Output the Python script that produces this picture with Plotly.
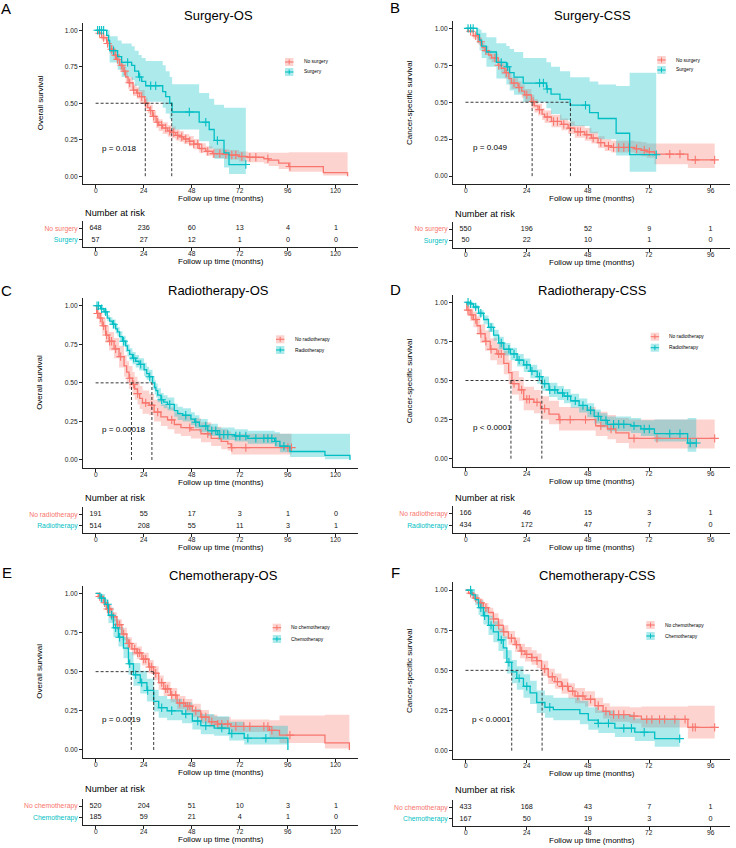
import numpy as np
import plotly.graph_objects as go

RED = "#F8766D"
TEAL = "#00BFC4"
RED_FILL = "rgba(248,118,109,0.32)"
TEAL_FILL = "rgba(0,191,196,0.32)"
FONT = "Liberation Sans, Arial, Helvetica, sans-serif"
W, H = 736, 848

# ======================= DATA =======================
# ---- Panel A: Surgery-OS ----
A_title = "Surgery-OS"
A_ylab = "Overall survival"
A_groups = ["No surgery", "Surgery"]
A_pvalue = "p = 0.018"
A_g1_time = [0, 1.3, 3, 5.5, 7, 9, 10.5, 12, 13.7, 15, 16.2, 18.7, 20.5, 22, 24.5, 26, 27, 28.5, 30.2, 31.5,
             33.5, 36, 38, 40, 42, 44, 46.8, 49, 51.7, 55, 58.3, 64, 66.6, 71.6, 76, 84, 86.4, 91.4, 96.4, 113.7, 125.8]
A_g1_surv = [1.0, 0.98, 0.95, 0.91, 0.87, 0.83, 0.80, 0.76, 0.72, 0.68, 0.64, 0.59, 0.57, 0.545, 0.50, 0.47, 0.45, 0.41, 0.37, 0.35,
             0.33, 0.31, 0.30, 0.28, 0.27, 0.255, 0.24, 0.22, 0.19, 0.17, 0.155, 0.15, 0.145, 0.135, 0.13, 0.12, 0.11, 0.09, 0.066, 0.025, 0.0]
A_g1_lower = [1.0, 0.97, 0.93, 0.89, 0.84, 0.80, 0.77, 0.73, 0.69, 0.64, 0.60, 0.55, 0.53, 0.50, 0.46, 0.43, 0.41, 0.37, 0.33, 0.31,
              0.29, 0.27, 0.26, 0.245, 0.235, 0.22, 0.205, 0.185, 0.16, 0.14, 0.125, 0.12, 0.115, 0.10, 0.095, 0.085, 0.07, 0.05, 0.03, 0.005, 0.005]
A_g1_upper = [1.0, 0.99, 0.97, 0.93, 0.90, 0.86, 0.83, 0.79, 0.76, 0.72, 0.68, 0.63, 0.61, 0.59, 0.54, 0.51, 0.49, 0.45, 0.41, 0.39,
              0.37, 0.35, 0.34, 0.32, 0.31, 0.29, 0.275, 0.255, 0.225, 0.205, 0.19, 0.185, 0.18, 0.17, 0.165, 0.165, 0.16, 0.16, 0.165, 0.165, 0.165]
A_g1_censor = [2, 4, 6, 8, 10, 11, 13, 14.5, 17, 19, 21, 23, 25, 27.5, 29, 31, 33, 35, 37, 39, 41, 43, 45, 47, 49, 51,
               53, 56, 59, 62, 65, 68, 70, 73, 77, 80, 86, 97]
A_g2_time = [0, 5.5, 6.5, 7, 11, 13, 18, 19.5, 21.5, 23, 25, 33.5, 35, 37, 38.2, 51.7, 56.7, 59.2, 64.1, 66.6, 75]
A_g2_surv = [1.0, 0.965, 0.93, 0.86, 0.82, 0.78, 0.76, 0.72, 0.68, 0.65, 0.62, 0.58, 0.545, 0.50, 0.44, 0.37, 0.32, 0.245, 0.16, 0.08, 0.08]
A_g2_lower = [1.0, 0.92, 0.87, 0.78, 0.73, 0.68, 0.66, 0.62, 0.58, 0.54, 0.51, 0.47, 0.43, 0.39, 0.32, 0.24, 0.19, 0.12, 0.06, 0.015, 0.015]
A_g2_upper = [1.0, 1.0, 1.0, 0.96, 0.93, 0.91, 0.89, 0.86, 0.83, 0.81, 0.79, 0.76, 0.72, 0.68, 0.63, 0.57, 0.53, 0.49, 0.47, 0.47, 0.47]
A_g2_censor = [1, 2, 3, 4, 9, 16, 22, 27.5, 30, 46.8, 55, 60.8, 75]
A_medians = [24.8, 38.0]
A_risk_times = [0, 24, 48, 72, 96, 120]
A_risk_g1 = [648, 236, 60, 13, 4, 1]
A_risk_g2 = [57, 27, 12, 1, 0, 0]

# ---- Panel B: Surgery-CSS ----
B_title = "Surgery-CSS"
B_ylab = "Cancer-specific survival"
B_groups = ["No surgery", "Surgery"]
B_pvalue = "p = 0.049"
B_g1_time = [0, 1, 3, 5, 6.5, 7.6, 9, 10.2, 12.8, 14, 15.4, 17, 18, 20.6, 22, 23.2, 25.8, 27, 28.4, 30,
             31, 33.7, 37.6, 40.2, 42.8, 46.7, 49.3, 51.9, 54.5, 57.1, 66.3, 68.9, 71, 74, 87.1, 97.6]
B_g1_surv = [1.0, 0.98, 0.95, 0.91, 0.87, 0.85, 0.82, 0.80, 0.75, 0.73, 0.70, 0.66, 0.63, 0.60, 0.575, 0.55, 0.505, 0.475, 0.45, 0.42,
             0.40, 0.37, 0.35, 0.325, 0.30, 0.28, 0.257, 0.227, 0.205, 0.194, 0.185, 0.175, 0.165, 0.149, 0.11, 0.11]
B_g1_lower = [1.0, 0.97, 0.93, 0.89, 0.84, 0.82, 0.79, 0.77, 0.72, 0.69, 0.66, 0.62, 0.59, 0.56, 0.53, 0.50, 0.46, 0.43, 0.41, 0.38,
              0.36, 0.33, 0.31, 0.285, 0.26, 0.24, 0.22, 0.19, 0.17, 0.16, 0.145, 0.135, 0.125, 0.08, 0.055, 0.055]
B_g1_upper = [1.0, 0.99, 0.97, 0.93, 0.90, 0.88, 0.85, 0.83, 0.79, 0.77, 0.74, 0.70, 0.67, 0.64, 0.62, 0.59, 0.55, 0.52, 0.49, 0.46,
              0.445, 0.415, 0.39, 0.37, 0.345, 0.325, 0.30, 0.27, 0.25, 0.24, 0.235, 0.23, 0.22, 0.22, 0.22, 0.22]
B_g1_censor = [2, 4, 6, 8, 11.5, 13, 16, 19, 21, 24, 26.5, 29, 32, 34.5, 36, 38.5, 41, 44, 45, 47.5, 50, 53, 56, 58,
               60, 62, 64, 67, 70, 72, 80, 84, 90, 97.6]
B_g2_time = [0, 4.5, 5.5, 6.3, 8.2, 12.1, 16, 17.3, 19, 22.6, 31.7, 33.5, 37, 41, 48.6, 52, 59, 64.3, 74.7]
B_g2_surv = [1.0, 0.96, 0.92, 0.88, 0.84, 0.77, 0.74, 0.70, 0.67, 0.63, 0.59, 0.555, 0.52, 0.48, 0.43, 0.39, 0.29, 0.145, 0.145]
B_g2_lower = [1.0, 0.90, 0.85, 0.80, 0.74, 0.66, 0.62, 0.58, 0.55, 0.50, 0.46, 0.42, 0.38, 0.34, 0.29, 0.25, 0.14, 0.03, 0.03]
B_g2_upper = [1.0, 1.0, 0.99, 0.97, 0.94, 0.90, 0.88, 0.86, 0.84, 0.80, 0.77, 0.74, 0.71, 0.67, 0.64, 0.62, 0.61, 0.70, 0.70]
B_g2_censor = [1, 2, 3, 14, 16.5, 29, 30.5, 32, 47, 74.7]
B_medians = [26.1, 41.1]
B_risk_times = [0, 24, 48, 72, 96]
B_risk_g1 = [550, 196, 52, 9, 1]
B_risk_g2 = [50, 22, 10, 1, 0]

# ---- Panel C: Radiotherapy-OS ----
C_title = "Radiotherapy-OS"
C_ylab = "Overall survival"
C_groups = ["No radiotherapy", "Radiotherapy"]
C_pvalue = "p = 0.00018"
C_g1_time = [0, 0.5, 1.7, 3.3, 5, 6.7, 9.2, 11.7, 14.2, 15.5, 16.7, 18.4, 19.5, 20.9, 22, 23.4, 26.7, 29.2, 32.6, 35.9,
             39.3, 42.6, 47.6, 52.6, 57.7, 62.7, 66, 67.7, 97.8]
C_g1_surv = [1.0, 0.95, 0.92, 0.87, 0.81, 0.77, 0.72, 0.67, 0.61, 0.57, 0.53, 0.49, 0.46, 0.43, 0.40, 0.37, 0.355, 0.31, 0.28, 0.26,
             0.23, 0.21, 0.195, 0.17, 0.14, 0.12, 0.105, 0.08, 0.08]
C_g1_lower = [1.0, 0.92, 0.88, 0.82, 0.76, 0.71, 0.66, 0.60, 0.54, 0.50, 0.46, 0.42, 0.39, 0.36, 0.33, 0.30, 0.29, 0.25, 0.22, 0.20,
              0.17, 0.155, 0.14, 0.115, 0.09, 0.07, 0.06, 0.035, 0.035]
C_g1_upper = [1.0, 0.98, 0.96, 0.92, 0.87, 0.83, 0.79, 0.74, 0.68, 0.64, 0.61, 0.57, 0.54, 0.51, 0.48, 0.45, 0.43, 0.39, 0.36, 0.34,
              0.31, 0.29, 0.27, 0.245, 0.215, 0.20, 0.185, 0.17, 0.17]
C_g1_censor = [1, 2.5, 4, 5.5, 7, 8, 10, 12.5, 17, 19, 21, 25, 28, 31, 38, 47, 56, 68, 75, 96, 97.8]
C_g2_time = [0, 2.5, 4.2, 5.8, 7, 8.4, 10, 10.9, 12, 13.4, 15, 15.9, 17, 18.4, 20, 21.7, 24.2, 25.5, 26.7, 28.4,
             29.5, 30.1, 31, 32.6, 34, 35.9, 39.3, 41, 43.5, 47.6, 49.5, 51.8, 56, 61, 69.4, 76, 89.4, 92, 97, 114.5, 127]
C_g2_surv = [1.0, 0.98, 0.96, 0.92, 0.90, 0.88, 0.85, 0.83, 0.80, 0.77, 0.74, 0.71, 0.685, 0.66, 0.64, 0.62, 0.585, 0.56, 0.54, 0.50,
             0.47, 0.45, 0.42, 0.39, 0.375, 0.36, 0.32, 0.30, 0.29, 0.265, 0.245, 0.22, 0.19, 0.165, 0.155, 0.14, 0.12, 0.09, 0.055, 0.03, 0.0]
C_g2_lower = [1.0, 0.97, 0.94, 0.90, 0.875, 0.85, 0.82, 0.80, 0.765, 0.735, 0.70, 0.67, 0.645, 0.62, 0.60, 0.58, 0.545, 0.52, 0.50, 0.455,
              0.425, 0.405, 0.375, 0.35, 0.335, 0.32, 0.28, 0.26, 0.25, 0.225, 0.205, 0.18, 0.155, 0.13, 0.12, 0.105, 0.08, 0.05, 0.02, 0.005, 0.005]
C_g2_upper = [1.0, 0.99, 0.98, 0.94, 0.925, 0.91, 0.88, 0.86, 0.835, 0.805, 0.78, 0.75, 0.725, 0.70, 0.68, 0.66, 0.63, 0.605, 0.585, 0.545,
              0.515, 0.495, 0.465, 0.435, 0.42, 0.405, 0.365, 0.345, 0.335, 0.31, 0.29, 0.265, 0.235, 0.21, 0.20, 0.19, 0.18, 0.17, 0.17, 0.17, 0.17]
C_g2_censor = [0.7, 1.5, 3, 5, 9, 14, 19, 22.5, 27, 33, 37, 45, 50, 55, 58, 60, 62, 64, 66, 70, 72, 75, 80, 84, 86, 88, 90, 94]
C_medians = [17.9, 28.1]
C_risk_times = [0, 24, 48, 72, 96, 120]
C_risk_g1 = [191, 55, 17, 3, 1, 0]
C_risk_g2 = [514, 208, 55, 11, 3, 1]

# ---- Panel D: Radiotherapy-CSS ----
D_title = "Radiotherapy-CSS"
D_ylab = "Cancer-specific survival"
D_groups = ["No radiotherapy", "Radiotherapy"]
D_pvalue = "p < 0.0001"
D_g1_time = [0, 0.5, 1.8, 3.1, 4.5, 5.8, 7.7, 9.7, 12.3, 15, 16.9, 18.2, 20.9, 22.8, 26.8, 29.4, 32.7, 36.6, 51, 55.6,
             58.9, 64, 97.6]
D_g1_surv = [1.0, 0.95, 0.92, 0.89, 0.85, 0.80, 0.75, 0.70, 0.67, 0.61, 0.55, 0.48, 0.44, 0.38, 0.36, 0.32, 0.285, 0.25, 0.21, 0.19,
             0.165, 0.13, 0.13]
D_g1_lower = [1.0, 0.92, 0.88, 0.84, 0.80, 0.74, 0.69, 0.63, 0.60, 0.54, 0.48, 0.41, 0.37, 0.31, 0.29, 0.25, 0.22, 0.18, 0.145, 0.125,
              0.10, 0.065, 0.065]
D_g1_upper = [1.0, 0.98, 0.96, 0.94, 0.91, 0.86, 0.82, 0.77, 0.74, 0.69, 0.63, 0.56, 0.52, 0.46, 0.44, 0.40, 0.37, 0.33, 0.30, 0.28,
              0.26, 0.25, 0.25]
D_g1_censor = [1, 2.5, 4, 6, 8, 10, 13, 14, 19, 22, 24, 25, 28, 31, 37, 41, 47, 53, 57, 66, 75, 97.6]
D_g2_time = [0, 1.8, 3.1, 5.1, 7.1, 9, 11, 13, 15, 17.6, 20.2, 22.8, 25.4, 28.1, 30, 32.7, 36, 38.6, 41.2, 44.5,
             47.7, 50.4, 53, 55.6, 64.8, 68.7, 74, 87, 90.4]
D_g2_surv = [1.0, 0.99, 0.97, 0.93, 0.89, 0.84, 0.79, 0.74, 0.70, 0.67, 0.63, 0.60, 0.56, 0.525, 0.48, 0.44, 0.42, 0.40, 0.37, 0.34,
             0.31, 0.27, 0.245, 0.22, 0.21, 0.19, 0.16, 0.10, 0.10]
D_g2_lower = [1.0, 0.98, 0.955, 0.91, 0.86, 0.81, 0.755, 0.70, 0.66, 0.63, 0.59, 0.555, 0.515, 0.48, 0.435, 0.395, 0.375, 0.355, 0.325, 0.295,
              0.265, 0.225, 0.20, 0.175, 0.165, 0.145, 0.11, 0.045, 0.045]
D_g2_upper = [1.0, 1.0, 0.985, 0.95, 0.915, 0.87, 0.825, 0.78, 0.74, 0.71, 0.67, 0.64, 0.60, 0.57, 0.525, 0.485, 0.465, 0.445, 0.415, 0.385,
              0.355, 0.315, 0.29, 0.27, 0.26, 0.245, 0.25, 0.26, 0.26]
D_g2_censor = [1, 2, 4, 6, 10, 14, 17, 19, 21, 24, 26, 29, 31, 33, 35, 38, 40, 43, 46, 49, 52, 55, 58, 60, 62, 66,
               70, 72, 80, 84, 88, 90.4]
D_medians = [17.8, 29.9]
D_risk_times = [0, 24, 48, 72, 96]
D_risk_g1 = [166, 46, 15, 3, 1]
D_risk_g2 = [434, 172, 47, 7, 0]

# ---- Panel E: Chemotherapy-OS ----
E_title = "Chemotherapy-OS"
E_ylab = "Overall survival"
E_groups = ["No chemotherapy", "Chemotherapy"]
E_pvalue = "p = 0.0019"
E_g1_time = [0, 1.3, 3.9, 5.5, 8, 10.6, 13.1, 15.6, 18.1, 20.6, 23.1, 26.5, 29, 31.5, 34, 37.4, 40.7, 44.9, 48.3, 52.5,
             56.6, 60.8, 67.5, 86.8, 91.8, 114.5, 126.7]
E_g1_surv = [1.0, 0.98, 0.94, 0.90, 0.85, 0.80, 0.74, 0.68, 0.645, 0.62, 0.58, 0.53, 0.49, 0.43, 0.39, 0.35, 0.30, 0.28, 0.25, 0.21,
             0.18, 0.165, 0.15, 0.125, 0.095, 0.045, 0.0]
E_g1_lower = [1.0, 0.97, 0.92, 0.875, 0.82, 0.765, 0.70, 0.64, 0.605, 0.58, 0.54, 0.49, 0.445, 0.385, 0.345, 0.305, 0.26, 0.24, 0.21, 0.17,
              0.145, 0.13, 0.115, 0.07, 0.045, 0.01, 0.01]
E_g1_upper = [1.0, 0.99, 0.96, 0.925, 0.88, 0.835, 0.78, 0.72, 0.685, 0.66, 0.62, 0.575, 0.535, 0.475, 0.435, 0.395, 0.345, 0.325, 0.295, 0.255,
              0.225, 0.21, 0.195, 0.19, 0.22, 0.225, 0.225]
E_g1_censor = [2, 4.5, 6, 7, 9, 11, 12, 14, 16.5, 17, 19.5, 21, 22, 24, 25, 27, 28, 30, 33, 35, 36, 38, 40, 42, 44,
               46, 47, 50, 53, 55, 58, 61, 63, 66, 70, 74, 77, 84, 86, 88, 97]
E_g2_time = [0, 2.2, 4.7, 6.4, 8.9, 11.4, 13.9, 16.4, 18.9, 22.3, 25.6, 29, 31.5, 35.7, 43.2, 48.3, 52.5, 59.2, 66.7, 74.2, 96]
E_g2_surv = [1.0, 0.97, 0.93, 0.86, 0.78, 0.72, 0.65, 0.55, 0.48, 0.43, 0.38, 0.31, 0.27, 0.25, 0.23, 0.185, 0.155, 0.14, 0.105, 0.075, 0.0]
E_g2_lower = [1.0, 0.945, 0.895, 0.81, 0.72, 0.66, 0.585, 0.48, 0.41, 0.36, 0.31, 0.245, 0.205, 0.19, 0.17, 0.13, 0.10, 0.09, 0.06, 0.035, 0.035]
E_g2_upper = [1.0, 0.995, 0.965, 0.91, 0.84, 0.785, 0.72, 0.625, 0.555, 0.505, 0.455, 0.385, 0.345, 0.325, 0.305, 0.26, 0.23, 0.215, 0.18, 0.155, 0.155]
E_g2_censor = [3, 6, 8, 10, 12, 17, 20, 23, 26, 33, 38, 45, 51, 55, 63, 68, 76, 85]
E_medians = [29.0, 17.8]
E_risk_times = [0, 24, 48, 72, 96, 120]
E_risk_g1 = [520, 204, 51, 10, 3, 1]
E_risk_g2 = [185, 59, 21, 4, 1, 0]

# ---- Panel F: Chemotherapy-CSS ----
F_title = "Chemotherapy-CSS"
F_ylab = "Cancer-specific survival"
F_groups = ["No chemotherapy", "Chemotherapy"]
F_pvalue = "p < 0.0001"
F_g1_time = [0, 1.2, 3.1, 5.1, 7, 9, 10.9, 12.9, 14.8, 16.8, 19.4, 21.4, 23.3, 25.9, 27.9, 29.8, 32.4, 35, 37.6, 40.3,
             42.9, 46.8, 50.7, 53.9, 56.5, 64.3, 68.9, 87.1, 97.6]
F_g1_surv = [1.0, 0.98, 0.95, 0.92, 0.89, 0.86, 0.82, 0.78, 0.74, 0.70, 0.66, 0.62, 0.60, 0.58, 0.56, 0.51, 0.46, 0.43, 0.40, 0.37,
             0.34, 0.32, 0.28, 0.245, 0.225, 0.215, 0.195, 0.145, 0.145]
F_g1_lower = [1.0, 0.97, 0.93, 0.895, 0.86, 0.83, 0.785, 0.74, 0.70, 0.66, 0.615, 0.575, 0.555, 0.535, 0.515, 0.465, 0.415, 0.385, 0.355, 0.325,
              0.295, 0.275, 0.235, 0.20, 0.18, 0.17, 0.145, 0.075, 0.075]
F_g1_upper = [1.0, 0.99, 0.97, 0.945, 0.92, 0.89, 0.855, 0.82, 0.78, 0.745, 0.705, 0.665, 0.645, 0.625, 0.605, 0.56, 0.51, 0.48, 0.45, 0.42,
              0.39, 0.37, 0.33, 0.295, 0.275, 0.27, 0.275, 0.28, 0.28]
F_g1_censor = [2, 4, 6, 8, 11, 13, 15, 18, 20, 22, 24, 26, 28, 31, 34, 36, 38, 40, 42, 44, 46, 49, 52, 55, 58, 60,
               62, 66, 71, 73, 76, 78, 82, 86, 89, 90, 97.6]
F_g2_time = [0, 2.5, 3.8, 5.1, 7, 9, 10.9, 12.9, 14.8, 16.2, 18.1, 20.1, 22.7, 25.3, 27.9, 31.1, 34.4, 44.8, 48.1, 52,
             58.5, 66.3, 74.1, 83.9]
F_g2_surv = [1.0, 0.97, 0.94, 0.89, 0.84, 0.78, 0.74, 0.69, 0.64, 0.55, 0.49, 0.45, 0.40, 0.36, 0.30, 0.27, 0.255, 0.23, 0.19, 0.17,
             0.14, 0.115, 0.075, 0.075]
F_g2_lower = [1.0, 0.945, 0.905, 0.845, 0.785, 0.72, 0.675, 0.62, 0.57, 0.48, 0.42, 0.38, 0.33, 0.29, 0.235, 0.205, 0.19, 0.165, 0.13, 0.11,
              0.085, 0.06, 0.025, 0.025]
F_g2_upper = [1.0, 0.995, 0.975, 0.935, 0.895, 0.84, 0.805, 0.76, 0.71, 0.625, 0.565, 0.525, 0.475, 0.435, 0.375, 0.345, 0.33, 0.31, 0.27, 0.25,
              0.225, 0.20, 0.20, 0.20]
F_g2_censor = [2, 6, 7.5, 10, 14, 17, 21, 24, 33, 52, 56, 62, 65, 70, 83.9]
F_medians = [30.0, 18.1]
F_risk_times = [0, 24, 48, 72, 96]
F_risk_g1 = [433, 168, 43, 7, 1]
F_risk_g2 = [167, 50, 19, 3, 0]

Y_TICKS = [0, 0.25, 0.5, 0.75, 1.0]
Y_TICKTEXT = ["0.00", "0.25", "0.50", "0.75", "1.00"]
XLAB = "Follow up time (months)"
RISK_LAB = "Number at risk"

G = globals()
PANEL_KEYS = ["A", "B", "C", "D", "E", "F"]

# ======================= LAYOUT CONFIG (pixels) =======================
COLS = [dict(left=83, right=358, xr=[-6.3, 131.0], ylab_x=40),
        dict(left=453, right=730, xr=[-4.9, 103.6], ylab_x=409.7)]
CFG = {
    "A": dict(col=0, main=(23.0, 183.5), table=(221.3, 247.0), letter=(6, 9), title=(218, 15),
              nar=213.0, pval=(100, 148), leg=(285, 62, 72)),
    "B": dict(col=1, main=(21.0, 183.5), table=(222.0, 247.7), letter=(395, 8), title=(592, 15),
              nar=214.0, pval=(471, 147), leg=(657.3, 60, 70)),
    "C": dict(col=0, main=(298.0, 467.7), table=(507.3, 533.0), letter=(6, 290), title=(218, 290),
              nar=498.3, pval=(100, 429.3), leg=(276, 339.3, 350)),
    "D": dict(col=1, main=(294.5, 466.5), table=(505.9, 533.1), letter=(395.7, 289), title=(592, 290),
              nar=497.7, pval=(471, 427), leg=(650.7, 336.7, 347.7)),
    "E": dict(col=0, main=(585.5, 757.8), table=(799.0, 824.7), letter=(6.7, 572.5), title=(223, 575.7),
              nar=789.3, pval=(100, 719.3), leg=(272.7, 627.7, 639)),
    "F": dict(col=1, main=(582.0, 758.7), table=(800.3, 826.0), letter=(395, 572.5), title=(597, 575.7),
              nar=790.0, pval=(469.7, 719.3), leg=(646.3, 625, 636)),
}
TICKLAB_OFF = 6.6   # px below axis line
XTITLE_OFF = 14.6   # px below axis line


def px(x):
    return x / W


def py(y):
    return 1 - y / H


fig = go.Figure()
layout = dict(width=W, height=H, margin=dict(l=0, r=0, t=0, b=0), showlegend=False,
              plot_bgcolor="white", paper_bgcolor="white", font=dict(family=FONT, color="#000"))
annotations = []
shapes = []

AX_COMMON = dict(showline=True, linecolor="#222", linewidth=1, ticks="outside", ticklen=3, tickwidth=0.9,
                 tickcolor="#222", showgrid=False, zeroline=False, mirror=False, fixedrange=True,
                 tickfont=dict(size=6.6, color="#222", family=FONT))


def axname(kind, n):
    return kind + ("axis" if n == 1 else f"axis{n}")


def ref(kind, n):
    return kind if n == 1 else f"{kind}{n}"


def step_at(t, s, x):
    i = int(np.searchsorted(np.asarray(t), x, side="right")) - 1
    return s[max(i, 0)]


for idx, k in enumerate(PANEL_KEYS):
    cfg = CFG[k]
    col = COLS[cfg["col"]]
    nm, nt = 2 * idx + 1, 2 * idx + 2
    xm, ym, xt, yt = ref("x", nm), ref("y", nm), ref("x", nt), ref("y", nt)
    risk_times = G[f"{k}_risk_times"]
    groups = G[f"{k}_groups"]
    colors = [RED, TEAL]
    fills = [RED_FILL, TEAL_FILL]

    # bands
    for gi, g in enumerate(["g1", "g2"]):
        t = G[f"{k}_{g}_time"]
        fig.add_trace(go.Scatter(x=t, y=G[f"{k}_{g}_lower"], mode="lines", line=dict(width=0, shape="hv"),
                                 xaxis=xm, yaxis=ym, hoverinfo="skip"))
        fig.add_trace(go.Scatter(x=t, y=G[f"{k}_{g}_upper"], mode="lines", line=dict(width=0, shape="hv"),
                                 fill="tonexty", fillcolor=fills[gi], xaxis=xm, yaxis=ym, hoverinfo="skip"))
    # curves
    for gi, g in enumerate(["g1", "g2"]):
        t = G[f"{k}_{g}_time"]
        s = G[f"{k}_{g}_surv"]
        fig.add_trace(go.Scatter(x=t, y=s, mode="lines", line=dict(width=1.3, color=colors[gi], shape="hv"),
                                 xaxis=xm, yaxis=ym, name=groups[gi]))
        cens = G[f"{k}_{g}_censor"]
        fig.add_trace(go.Scatter(x=cens, y=[step_at(t, s, c) for c in cens], mode="markers",
                                 marker=dict(symbol="cross-thin", size=6, line=dict(width=1.1, color=colors[gi])),
                                 xaxis=xm, yaxis=ym, hoverinfo="skip"))
    # median lines
    med = G[f"{k}_medians"]
    mx, my = [0, max(med), None], [0.5, 0.5, None]
    for m in med:
        mx += [m, m, None]
        my += [0, 0.5, None]
    fig.add_trace(go.Scatter(x=mx, y=my, mode="lines", line=dict(color="#222", width=0.9, dash="3px,2px"),
                             xaxis=xm, yaxis=ym, hoverinfo="skip"))
    # risk table text
    for gi, g in enumerate(["g1", "g2"]):
        vals = G[f"{k}_risk_{g}"]
        fig.add_trace(go.Scatter(x=risk_times, y=[2 - gi] * len(vals), mode="text", text=[str(v) for v in vals],
                                 textfont=dict(size=7.2, color="#111", family=FONT), xaxis=xt, yaxis=yt,
                                 hoverinfo="skip"))

    dom_x = [px(col["left"]), px(col["right"])]
    layout[axname("x", nm)] = dict(AX_COMMON, domain=dom_x, range=col["xr"], anchor=ym, tickvals=risk_times,
                                   showticklabels=False)
    layout[axname("y", nm)] = dict(AX_COMMON, domain=[py(cfg["main"][1]), py(cfg["main"][0])], range=[-0.05, 1.05],
                                   anchor=xm, tickvals=Y_TICKS, ticktext=Y_TICKTEXT)
    layout[axname("x", nt)] = dict(AX_COMMON, domain=dom_x, range=col["xr"], anchor=yt, tickvals=risk_times,
                                   showticklabels=False)
    layout[axname("y", nt)] = dict(AX_COMMON, domain=[py(cfg["table"][1]), py(cfg["table"][0])], range=[0.4, 2.6],
                                   anchor=xt, tickvals=[2, 1],
                                   ticktext=[f"<span style='color:{RED}'>{groups[0]}</span>",
                                             f"<span style='color:{TEAL}'>{groups[1]}</span>"],
                                   tickfont=dict(size=6.8, family=FONT))

    cx = (col["left"] + col["right"]) / 2
    # x tick labels + x titles (placed on the axis scale)
    for xa, bottom in ((xm, cfg["main"][1]), (xt, cfg["table"][1])):
        for v in risk_times:
            annotations.append(dict(text=str(v), x=v, xref=xa, y=py(bottom + TICKLAB_OFF), yref="paper",
                                    showarrow=False, font=dict(size=6.6, color="#222"),
                                    xanchor="center", yanchor="middle"))
        annotations.append(dict(text=XLAB, x=px(cx), y=py(bottom + XTITLE_OFF), xref="paper", yref="paper",
                                showarrow=False, font=dict(size=8, color="#000"), xanchor="center",
                                yanchor="middle"))
    # texts
    annotations.append(dict(text=k, x=px(cfg["letter"][0]), y=py(cfg["letter"][1]), xref="paper", yref="paper",
                            showarrow=False, font=dict(size=15, color="#000"), xanchor="center", yanchor="middle"))
    annotations.append(dict(text=G[f"{k}_title"], x=px(cfg["title"][0]), y=py(cfg["title"][1]), xref="paper",
                            yref="paper", showarrow=False, font=dict(size=13, color="#000"),
                            xanchor="center", yanchor="middle"))
    annotations.append(dict(text=G[f"{k}_ylab"], x=px(col["ylab_x"]), y=py((cfg["main"][0] + cfg["main"][1]) / 2),
                            xref="paper", yref="paper", showarrow=False, textangle=-90,
                            font=dict(size=8, color="#000"), xanchor="center", yanchor="middle"))
    annotations.append(dict(text=RISK_LAB, x=px(col["left"]), y=py(cfg["nar"]), xref="paper", yref="paper",
                            showarrow=False, font=dict(size=9.2, color="#000"), xanchor="left", yanchor="middle"))
    annotations.append(dict(text=G[f"{k}_pvalue"], x=px(cfg["pval"][0]), y=py(cfg["pval"][1]), xref="paper",
                            yref="paper", showarrow=False, font=dict(size=8.1, color="#000"),
                            xanchor="left", yanchor="middle"))
    # legend (manual)
    lx, ly1, ly2 = cfg["leg"]
    for gi, ly in enumerate((ly1, ly2)):
        shapes.append(dict(type="rect", xref="paper", yref="paper", x0=px(lx), x1=px(lx + 8.4),
                           y0=py(ly + 4), y1=py(ly - 4), fillcolor=fills[gi], line=dict(width=0)))
        shapes.append(dict(type="line", xref="paper", yref="paper", x0=px(lx), x1=px(lx + 8.4),
                           y0=py(ly), y1=py(ly), line=dict(color=colors[gi], width=1.1)))
        shapes.append(dict(type="line", xref="paper", yref="paper", x0=px(lx + 4.2), x1=px(lx + 4.2),
                           y0=py(ly - 2.5), y1=py(ly + 2.5), line=dict(color=colors[gi], width=1)))
        annotations.append(dict(text=groups[gi], x=px(lx + 16.7), y=py(ly), xref="paper", yref="paper",
                                showarrow=False, font=dict(size=4.9, color="#000"), xanchor="left",
                                yanchor="middle"))

layout["annotations"] = annotations
layout["shapes"] = shapes
fig.update_layout(**layout)
fig.write_html("out.html", config={"displayModeBar": False},
               post_script="document.body.style.margin='0';document.body.style.overflow='hidden';")
